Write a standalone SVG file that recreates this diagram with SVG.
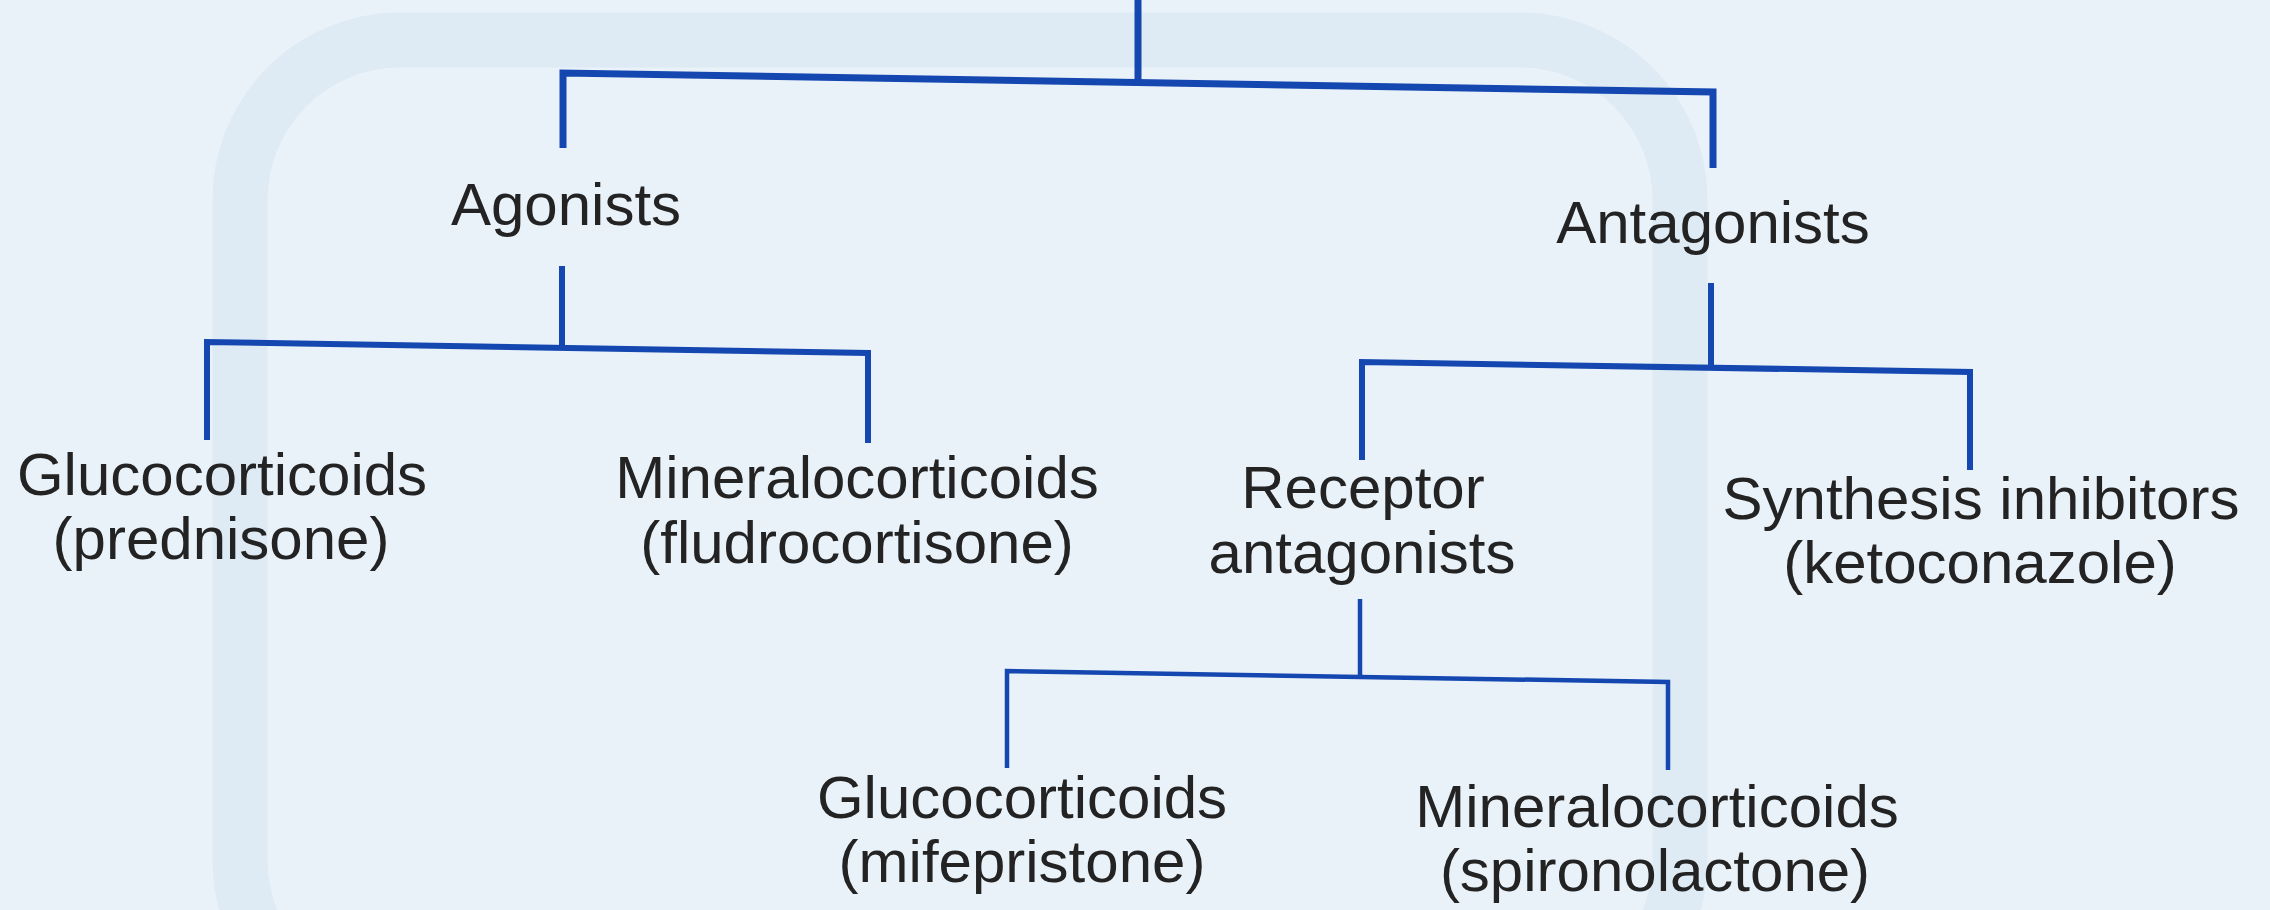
<svg xmlns="http://www.w3.org/2000/svg" width="2270" height="910" viewBox="0 0 2270 910">
  <style>
    .lbl { font-family: "Liberation Sans", Arial, Helvetica, sans-serif; font-size: 60px; fill: #232323; text-anchor: middle; }
    .ln { fill: none; stroke: #1447b0; stroke-linecap: butt; stroke-linejoin: miter; }
    .thick { stroke-width: 7; }
    .mid { stroke-width: 6; }
    .thin { stroke-width: 4.5; }
  </style>
  <rect x="0" y="0" width="2270" height="910" fill="#eaf2f9"/>
  <g id="background" fill="none" stroke="#dbe7f2" stroke-width="55" opacity="0.8">
    <rect x="240" y="40" width="1440" height="980" rx="160"/>
  </g>

  <g id="connectors">
    <polyline class="ln thick" points="1138,0 1138,83"/>
    <polyline class="ln thick" points="563,148 563,73 1713,92 1713,168"/>
    <polyline class="ln mid" points="562,266 562,347"/>
    <polyline class="ln mid" points="207,440 207,342 868,353 868,443"/>
    <polyline class="ln mid" points="1711,283 1711,367"/>
    <polyline class="ln mid" points="1362,460 1362,362 1970,372 1970,470"/>
    <polyline class="ln thin" points="1360,599 1360,676"/>
    <polyline class="ln thin" points="1007,768 1007,671 1668,682 1668,770"/>
  </g>

  <g id="agonists"><text class="lbl" x="566" y="225">Agonists</text></g>
  <g id="antagonists"><text class="lbl" x="1713" y="243">Antagonists</text></g>
  <g id="glucocorticoids-prednisone">
    <text class="lbl" x="222" y="495">Glucocorticoids</text>
    <text class="lbl" x="221" y="559">(prednisone)</text>
  </g>
  <g id="mineralocorticoids-fludrocortisone">
    <text class="lbl" x="857" y="498">Mineralocorticoids</text>
    <text class="lbl" x="857" y="563">(fludrocortisone)</text>
  </g>
  <g id="receptor-antagonists">
    <text class="lbl" x="1363" y="508">Receptor</text>
    <text class="lbl" x="1362" y="573">antagonists</text>
  </g>
  <g id="synthesis-inhibitors">
    <text class="lbl" x="1981" y="519">Synthesis inhibitors</text>
    <text class="lbl" x="1980" y="583">(ketoconazole)</text>
  </g>
  <g id="glucocorticoids-mifepristone">
    <text class="lbl" x="1022" y="818">Glucocorticoids</text>
    <text class="lbl" x="1022" y="882">(mifepristone)</text>
  </g>
  <g id="mineralocorticoids-spironolactone">
    <text class="lbl" x="1657" y="827">Mineralocorticoids</text>
    <text class="lbl" x="1655" y="891">(spironolactone)</text>
  </g>
</svg>
